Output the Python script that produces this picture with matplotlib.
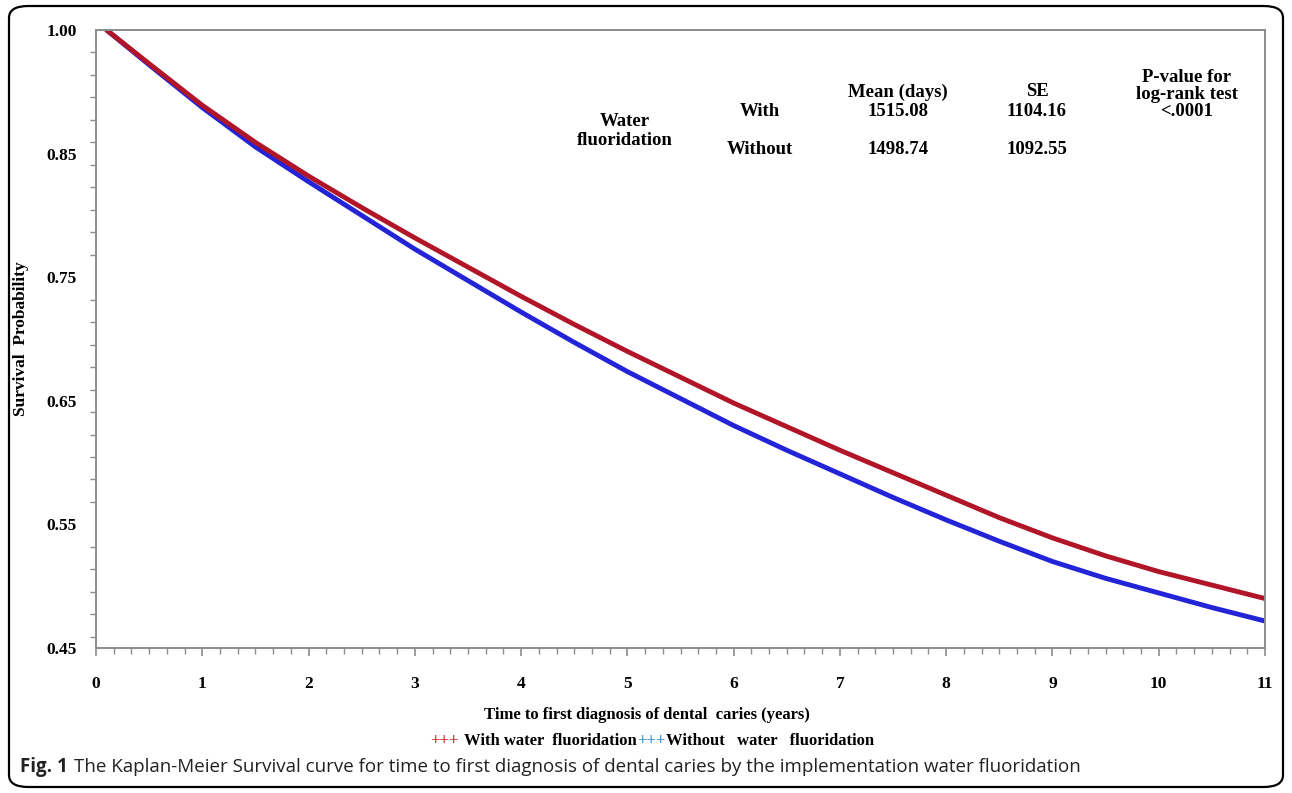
import numpy as np
import matplotlib
matplotlib.use("Agg")
import matplotlib.pyplot as plt
from matplotlib.patches import FancyBboxPatch
from matplotlib.ticker import FixedLocator, MultipleLocator

# ---- data ----
time_years = [0.1, 0.5, 1, 1.5, 2, 2.5, 3, 3.5, 4, 4.5, 5, 5.5, 6, 6.5, 7, 7.5,
              8, 8.5, 9, 9.5, 10, 10.5, 11]
surv_with = [1.000, 0.970, 0.933, 0.900, 0.870, 0.842, 0.815, 0.789, 0.763, 0.738,
             0.714, 0.691, 0.668, 0.647, 0.626, 0.606, 0.586, 0.566, 0.548, 0.532,
             0.518, 0.506, 0.494]
surv_without = [1.000, 0.969, 0.931, 0.896, 0.865, 0.835, 0.805, 0.777, 0.749, 0.722,
                0.696, 0.672, 0.648, 0.626, 0.605, 0.584, 0.564, 0.545, 0.527, 0.512,
                0.499, 0.486, 0.474]

x_ticks = list(range(0, 12))
y_tick_labels = ["0.45", "0.55", "0.65", "0.75", "0.85", "1.00"]

table_header = ["Mean (days)", "SE", "P-value for\nlog-rank test"]
table_rows = [["With", "1515.08", "1104.16", "<.0001"],
              ["Without", "1498.74", "1092.55", ""]]

SERIF = ["Liberation Serif", "DejaVu Serif"]
W, H = 1292, 793
fig = plt.figure(figsize=(W / 100, H / 100), dpi=100)

def fx(px):
    return px / W

def fy(py):
    return 1 - py / H

# outer rounded border
border = FancyBboxPatch((fx(9), fy(787)), fx(1283) - fx(9), fy(6) - fy(787),
                        boxstyle="round,pad=0,rounding_size=0.015",
                        transform=fig.transFigure, fill=False,
                        edgecolor="black", linewidth=1.6)
fig.patches.append(border)

ax = fig.add_axes([fx(96), fy(648), fx(1265) - fx(96), fy(30) - fy(648)])

ax.plot(time_years, surv_without, color="#2323d8", linewidth=3.5,
        solid_capstyle="round", solid_joinstyle="round")
ax.plot(time_years, surv_with, color="#b01528", linewidth=3.5,
        solid_capstyle="round", solid_joinstyle="round")

ax.set_xlim(0, 11)
ax.set_ylim(0.45, 1.0)

ax.xaxis.set_major_locator(FixedLocator(x_ticks))
ax.xaxis.set_minor_locator(MultipleLocator(1 / 6))
ax.set_xticklabels([str(v) for v in x_ticks])

ax.yaxis.set_major_locator(FixedLocator(np.linspace(0.45, 1.0, len(y_tick_labels))))
ax.set_yticklabels(y_tick_labels)
ax.yaxis.set_minor_locator(FixedLocator(np.arange(1.0, 0.455, -0.02)))

for s in ax.spines.values():
    s.set_color("#8c8c8c")
    s.set_linewidth(1.4)

ax.tick_params(axis="x", which="major", length=6, width=1.2, color="#8c8c8c", pad=14)
ax.tick_params(axis="x", which="minor", length=4, width=1.0, color="#8c8c8c")
ax.tick_params(axis="y", which="major", length=0, pad=14)
ax.tick_params(axis="y", which="minor", length=4, width=1.0, color="#8c8c8c")

for lab in ax.get_xticklabels() + ax.get_yticklabels():
    lab.set_fontfamily(SERIF)
    lab.set_fontweight("bold")
    lab.set_fontsize(12.5)

ax.set_ylabel("Survival  Probability", fontfamily=SERIF, fontweight="bold",
              fontsize=12.5, labelpad=12)

# x-axis title (centred as in the original, slightly left of the axes centre)
fig.text(fx(647), fy(715), "Time to first diagnosis of dental  caries (years)",
         fontfamily=SERIF, fontweight="bold", fontsize=12, ha="center", va="center")

# table of statistics
tkw = dict(fontfamily=SERIF, fontweight="bold", fontsize=13.5, ha="center",
           va="center", transform=fig.transFigure)
col_x = [760, 898, 1037, 1187]
fig.text(fx(col_x[1]), fy(92), table_header[0], **tkw)
fig.text(fx(col_x[2]), fy(92), table_header[1], **tkw)
fig.text(fx(col_x[3]), fy(86), table_header[2], linespacing=1.05, **tkw)
fig.text(fx(625), fy(131), "Water\nfluoridation", linespacing=1.2, **tkw)
for r, yy in zip(table_rows, [112, 149]):
    for c, xx in zip(r, col_x):
        if c:
            fig.text(fx(xx), fy(yy), c, **tkw)

# legend line
lkw = dict(fontfamily=SERIF, fontweight="bold", fontsize=12, va="center",
           transform=fig.transFigure)
t1 = fig.text(fx(430), fy(741), "+++", color="#e0202a", **lkw)
fig.canvas.draw()
r = fig.canvas.get_renderer()
bb = t1.get_window_extent(r)
t2 = fig.text(bb.x1 / W + fx(6), fy(741), "With water  fluoridation", color="black", **lkw)
bb = t2.get_window_extent(r)
t3 = fig.text(bb.x1 / W, fy(741), "+++", color="#3a8fd0", **lkw)
bb = t3.get_window_extent(r)
fig.text(bb.x1 / W, fy(741), "Without   water   fluoridation", color="black", **lkw)

# caption
c1 = fig.text(fx(20), fy(767), "Fig. 1", fontfamily="Open Sans", fontweight="bold",
              fontsize=13.5, va="center", color="#222222")
fig.canvas.draw()
bb = c1.get_window_extent(fig.canvas.get_renderer())
fig.text(bb.x1 / W + fx(6), fy(767),
         "The Kaplan-Meier Survival curve for time to first diagnosis of dental caries by the implementation water fluoridation",
         fontfamily="Open Sans", fontsize=13.5, va="center", color="#222222")

fig.savefig("out.png", dpi=100)
